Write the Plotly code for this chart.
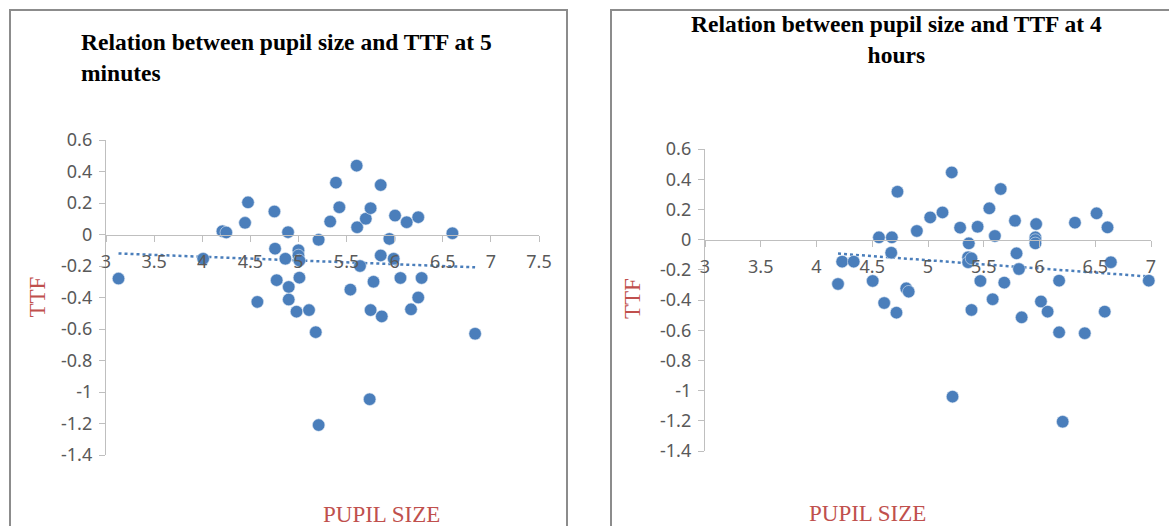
import numpy as np
import plotly.graph_objects as go

W, H = 1169, 526

# ---- Data: TTF vs pupil size at 5 minutes ----
pupil_5min = [3.13, 4.01, 4.21, 4.25, 4.445, 4.476, 4.573, 4.75, 4.757, 4.774,
              4.864, 4.892, 4.899, 4.899, 4.98, 5.0, 5.0, 5.01, 5.01, 5.11,
              5.18, 5.21, 5.21, 5.33, 5.39, 5.425, 5.54, 5.605, 5.61, 5.64,
              5.70, 5.75, 5.78, 5.75, 5.74, 5.855, 5.855, 5.866, 5.945, 6.004,
              5.99, 6.06, 6.125, 6.245, 6.28, 6.245, 6.17, 6.6, 6.836]
ttf_5min = [-0.28, -0.154, 0.021, 0.013, 0.074, 0.204, -0.428, 0.146, -0.09, -0.29,
            -0.154, 0.015, -0.333, -0.413, -0.49, -0.10, -0.133, -0.165, -0.274, -0.48,
            -0.62, -1.21, -0.034, 0.082, 0.329, 0.173, -0.35, 0.437, 0.046, -0.2,
            0.10, 0.167, -0.30, -0.48, -1.046, 0.314, -0.133, -0.52, -0.028, 0.12,
            -0.154, -0.276, 0.078, 0.11, -0.276, -0.40, -0.475, 0.008, -0.63]

# ---- Data: TTF vs pupil size at 4 hours ----
pupil_4h = [4.193, 4.23, 4.334, 4.504, 4.56, 4.607, 4.67, 4.676, 4.726, 4.717,
            4.805, 4.827, 4.9, 5.02, 5.13, 5.213, 5.22, 5.288, 5.366, 5.36,
            5.36, 5.39, 5.39, 5.445, 5.47, 5.55, 5.58, 5.6, 5.652, 5.684,
            5.78, 5.794, 5.816, 5.84, 5.97, 5.963, 5.963, 5.963, 6.013, 6.073,
            6.176, 6.176, 6.208, 6.318, 6.406, 6.512, 6.585, 6.61, 6.64, 6.98]
ttf_4h = [-0.294, -0.146, -0.146, -0.274, 0.015, -0.42, -0.087, 0.015, 0.317, -0.484,
          -0.323, -0.345, 0.057, 0.147, 0.18, 0.445, -1.04, 0.079, -0.025, -0.117,
          -0.15, -0.124, -0.466, 0.085, -0.274, 0.207, -0.395, 0.024, 0.335, -0.285,
          0.125, -0.091, -0.195, -0.515, 0.103, 0.015, -0.003, -0.025, -0.41, -0.477,
          -0.272, -0.614, -1.206, 0.112, -0.62, 0.174, -0.477, 0.081, -0.15, -0.272]

titles = ["Relation between pupil size and TTF at 5<br>minutes",
          "Relation between pupil size and TTF at 4<br>hours"]
x_title = "PUPIL SIZE"
y_title = "TTF"
y_ticks = [0.6, 0.4, 0.2, 0, -0.2, -0.4, -0.6, -0.8, -1, -1.2, -1.4]
x_ticks_left = [3, 3.5, 4, 4.5, 5, 5.5, 6, 6.5, 7, 7.5]
x_ticks_right = [3, 3.5, 4, 4.5, 5, 5.5, 6, 6.5, 7]

MARKER = "#4a7ebb"
AXIS = "#bfbfbf"
TICKFONT = dict(family="Noto Sans", size=18, color="#595959")
RED = "#c0504d"

fig = go.Figure()


def trend(xs, ys):
    xs = np.asarray(xs); ys = np.asarray(ys)
    m, b = np.polyfit(xs, ys, 1)
    xl = np.array([xs.min(), xs.max()])
    return xl, m * xl + b


for i, (xs, ys) in enumerate([(pupil_5min, ttf_5min), (pupil_4h, ttf_4h)]):
    xa = "x" if i == 0 else "x2"
    ya = "y" if i == 0 else "y2"
    tx, ty = trend(xs, ys)
    fig.add_trace(go.Scatter(x=tx, y=ty, mode="lines", xaxis=xa, yaxis=ya,
                             line=dict(color=MARKER, width=2.5, dash="dot"),
                             showlegend=False, hoverinfo="skip"))
    fig.add_trace(go.Scatter(x=xs, y=ys, mode="markers", xaxis=xa, yaxis=ya,
                             marker=dict(color=MARKER, size=12.5,
                                         line=dict(color="#dbe5f1", width=0.6)),
                             cliponaxis=False, showlegend=False))

# pixel geometry -> paper fractions
def px(x):
    return x / W

def py(y):
    return 1 - y / H

L = dict(x0=106, x1=539, ytop=140, ybot=455)
R = dict(x0=705, x1=1151, ytop=149, ybot=451)
yr = [-1.4, 0.6]

def zero_pos(g):
    d0, d1 = py(g["ybot"]), py(g["ytop"])
    return d0 + (0 - yr[0]) / (yr[1] - yr[0]) * (d1 - d0)

common_y = dict(range=yr, tickvals=y_ticks, ticktext=[f"{v:g}" for v in y_ticks],
                showline=True, linecolor=AXIS, linewidth=1.3, ticks="outside",
                ticklen=6, tickcolor=AXIS, tickwidth=1.3, showgrid=False,
                zeroline=False, tickfont=TICKFONT, ticklabelstandoff=3,
                automargin=False)
common_x = dict(showline=True, linecolor=AXIS, linewidth=1.3, ticks="outside",
                ticklen=6, tickcolor=AXIS, tickwidth=1.3, showgrid=False,
                zeroline=False, tickfont=TICKFONT, ticklabelstandoff=5,
                automargin=False)

fig.update_layout(
    width=W, height=H, margin=dict(l=0, r=0, t=0, b=0, pad=0, autoexpand=False),
    template="none",
    paper_bgcolor="white", plot_bgcolor="white",
    xaxis=dict(domain=[px(L["x0"]), px(L["x1"])], range=[3, 7.5],
               tickvals=x_ticks_left, ticktext=[f"{v:g}" for v in x_ticks_left],
               anchor="free", position=zero_pos(L), **common_x),
    yaxis=dict(domain=[py(L["ybot"]), py(L["ytop"])], anchor="x", **common_y),
    xaxis2=dict(domain=[px(R["x0"]), px(R["x1"])], range=[3, 7],
                tickvals=x_ticks_right, ticktext=[f"{v:g}" for v in x_ticks_right],
                anchor="free", position=zero_pos(R), **common_x),
    yaxis2=dict(domain=[py(R["ybot"]), py(R["ytop"])], anchor="x2", **common_y),
)

# panel borders
border = dict(color="#8c8c8c", width=2)
fig.add_shape(type="path", xref="paper", yref="paper",
              path=f"M {px(10)},-0.05 L {px(10)},{py(10)} L {px(567)},{py(10)} L {px(567)},-0.05",
              line=border)
fig.add_shape(type="path", xref="paper", yref="paper",
              path=f"M {px(611)},-0.05 L {px(611)},{py(10)} L 1.05,{py(10)}",
              line=border)

title_font = dict(family="Liberation Serif", size=23.5, color="black")
fig.add_annotation(text=f"<b>{titles[0]}</b>", xref="paper", yref="paper",
                   x=px(79), y=py(27), xanchor="left", yanchor="top", align="left",
                   showarrow=False, font=title_font)
fig.add_annotation(text=f"<b>{titles[1]}</b>", xref="paper", yref="paper",
                   x=px(896.5), y=py(9), xanchor="center", yanchor="top", align="center",
                   showarrow=False, font=title_font)

lab_font = dict(family="Liberation Serif", size=23, color=RED)
for (xc, yc) in [(22, 297), (632, 299)]:
    fig.add_annotation(text=y_title, xref="paper", yref="paper", x=px(xc), y=py(yc),
                       textangle=-90, showarrow=False, font=lab_font)
for (xc, yc) in [(321, 529), (928, 528)]:
    fig.add_annotation(text=x_title, xref="paper", yref="paper", x=px(xc), y=py(yc),
                       showarrow=False, font=lab_font)

fig.write_html("out.html",
               config={"displayModeBar": False},
               post_script="document.body.style.margin='0';"
                           "document.body.style.overflow='hidden';")
